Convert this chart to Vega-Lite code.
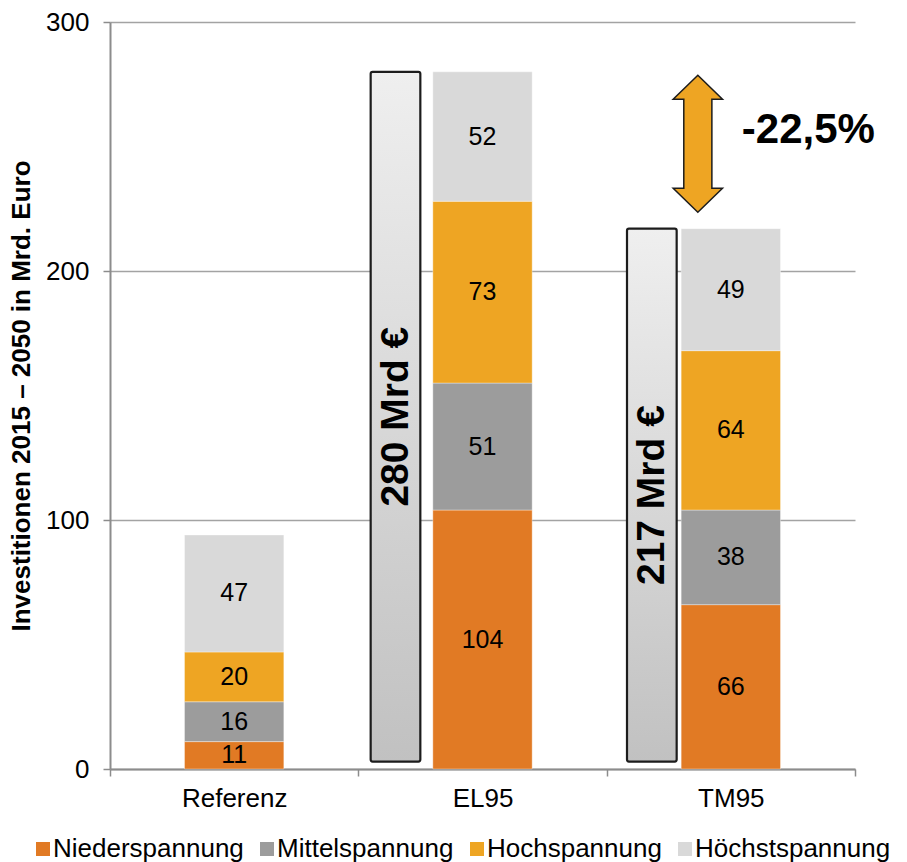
{
  "$schema": "https://vega.github.io/schema/vega-lite/v6.json",
  "width": 745,
  "height": 747,
  "autosize": "none",
  "padding": {"left": 110, "top": 22, "right": 52, "bottom": 93},
  "config": {
    "view": {"stroke": null},
    "font": "Liberation Sans",
    "axis": {"labelFont": "Liberation Sans", "titleFont": "Liberation Sans", "labelColor": "#000000", "titleColor": "#000000"},
    "legend": {"labelFont": "Liberation Sans", "labelColor": "#000000"}
  },
  "datasets": {
    "segmente": [
      {"szenario": "Referenz", "ebene": "Niederspannung", "wert": 11},
      {"szenario": "Referenz", "ebene": "Mittelspannung", "wert": 16},
      {"szenario": "Referenz", "ebene": "Hochspannung", "wert": 20},
      {"szenario": "Referenz", "ebene": "Höchstspannung", "wert": 47},
      {"szenario": "EL95", "ebene": "Niederspannung", "wert": 104},
      {"szenario": "EL95", "ebene": "Mittelspannung", "wert": 51},
      {"szenario": "EL95", "ebene": "Hochspannung", "wert": 73},
      {"szenario": "EL95", "ebene": "Höchstspannung", "wert": 52},
      {"szenario": "TM95", "ebene": "Niederspannung", "wert": 66},
      {"szenario": "TM95", "ebene": "Mittelspannung", "wert": 38},
      {"szenario": "TM95", "ebene": "Hochspannung", "wert": 64},
      {"szenario": "TM95", "ebene": "Höchstspannung", "wert": 49}
    ],
    "summen": [
      {"szenario": "EL95", "summe": 280, "label": "280 Mrd €"},
      {"szenario": "TM95", "summe": 217, "label": "217 Mrd €"}
    ],
    "differenz": [
      {"szenario": "TM95", "von": 280, "bis": 217, "label": "-22,5%"}
    ]
  },
  "layer": [
    {
      "data": {"name": "segmente"},
      "transform": [
        {"calculate": "indexof(['Niederspannung','Mittelspannung','Hochspannung','Höchstspannung'], datum.ebene)", "as": "rang"},
        {"stack": "wert", "groupby": ["szenario"], "sort": [{"field": "rang", "order": "ascending"}], "as": ["y0", "y1"]},
        {"calculate": "(datum.y0 + datum.y1) / 2", "as": "mitte"}
      ],
      "layer": [
        {
          "mark": {"type": "bar", "width": {"band": 0.4}, "stroke": "#ffffff", "strokeWidth": 0.6, "strokeOpacity": 0.6},
          "encoding": {
            "x": {
              "field": "szenario", "type": "nominal", "sort": ["Referenz", "EL95", "TM95"],
              "scale": {"paddingInner": 0, "paddingOuter": 0},
              "axis": {
                "title": null, "labelAngle": 0, "tickBand": "extent",
                "domainColor": "#8c8c8c", "domainWidth": 2,
                "tickColor": "#8c8c8c", "tickSize": 7, "tickWidth": 1.5,
                "labelFontSize": 26, "labelPadding": 9
              }
            },
            "y": {
              "field": "y0", "type": "quantitative",
              "scale": {"domain": [0, 300], "nice": false},
              "axis": {
                "values": [0, 100, 200, 300],
                "grid": true, "gridColor": "#a3a3a3", "gridWidth": 1.5,
                "domainColor": "#8c8c8c", "domainWidth": 2,
                "tickColor": "#8c8c8c", "tickSize": 7, "tickWidth": 1.5,
                "labelFontSize": 26, "labelPadding": 14,
                "title": "Investitionen 2015 – 2050 in Mrd. Euro",
                "titleFontSize": 26, "titleFontWeight": "bold", "titlePadding": 11
              }
            },
            "y2": {"field": "y1"},
            "color": {
              "field": "ebene", "type": "nominal",
              "scale": {
                "domain": ["Niederspannung", "Mittelspannung", "Hochspannung", "Höchstspannung"],
                "range": ["#e17a24", "#9c9c9c", "#eea523", "#d9d9d9"]
              },
              "legend": {
                "title": null, "orient": "none", "legendX": -80, "legendY": 814,
                "direction": "horizontal", "columns": 4,
                "symbolType": "square", "symbolSize": 196, "symbolStrokeWidth": 0,
                "labelFontSize": 26, "labelOffset": -3, "labelLimit": 0, "columnPadding": 10
              }
            }
          }
        },
        {
          "mark": {"type": "text", "fontSize": 25, "color": "#000000", "baseline": "middle", "align": "center"},
          "encoding": {
            "x": {"field": "szenario", "type": "nominal", "sort": ["Referenz", "EL95", "TM95"]},
            "y": {"field": "mitte", "type": "quantitative"},
            "text": {"field": "wert", "type": "quantitative"}
          }
        }
      ]
    },
    {
      "data": {"name": "summen"},
      "transform": [
        {"calculate": "(datum.summe + 3) / 2", "as": "mitte"}
      ],
      "layer": [
        {
          "mark": {
            "type": "bar", "width": {"band": 0.2},
            "xOffset": {"expr": "datum.szenario === 'EL95' ? -87 : -79"},
            "fill": {
              "gradient": "linear", "x1": 0, "y1": 0, "x2": 0, "y2": 1,
              "stops": [{"offset": 0, "color": "#efefef"}, {"offset": 1, "color": "#c1c1c1"}]
            },
            "stroke": "#1c1c1c", "strokeWidth": 2.2, "cornerRadius": 2
          },
          "encoding": {
            "x": {"field": "szenario", "type": "nominal", "sort": ["Referenz", "EL95", "TM95"]},
            "y": {"field": "summe", "type": "quantitative"},
            "y2": {"datum": 3}
          }
        },
        {
          "mark": {
            "type": "text", "angle": 270, "fontSize": 39, "fontWeight": "bold", "color": "#000000",
            "align": "center", "baseline": "middle",
            "xOffset": {"expr": "datum.szenario === 'EL95' ? -87 : -79"}
          },
          "encoding": {
            "x": {"field": "szenario", "type": "nominal", "sort": ["Referenz", "EL95", "TM95"]},
            "y": {"field": "mitte", "type": "quantitative"},
            "text": {"field": "label"}
          }
        }
      ]
    },
    {
      "data": {"name": "differenz"},
      "transform": [
        {"calculate": "(datum.von + datum.bis) / 2", "as": "mitte"}
      ],
      "layer": [
        {
          "mark": {
            "type": "point", "filled": true, "opacity": 1,
            "shape": "M0,-1 L0.36,-0.65 L0.205,-0.65 L0.205,0.65 L0.36,0.65 L0,1 L-0.36,0.65 L-0.205,0.65 L-0.205,-0.65 L-0.36,-0.65 Z",
            "size": 18769, "fill": "#eea523", "stroke": "#1c1c1c", "strokeWidth": 1.5,
            "xOffset": -33, "yOffset": -6.5
          },
          "encoding": {
            "x": {"field": "szenario", "type": "nominal", "sort": ["Referenz", "EL95", "TM95"]},
            "y": {"field": "mitte", "type": "quantitative"}
          }
        },
        {
          "mark": {
            "type": "text", "fontSize": 42, "fontWeight": "bold", "color": "#000000",
            "align": "left", "baseline": "middle", "xOffset": 11, "yOffset": -20
          },
          "encoding": {
            "x": {"field": "szenario", "type": "nominal", "sort": ["Referenz", "EL95", "TM95"]},
            "y": {"field": "mitte", "type": "quantitative"},
            "text": {"field": "label"}
          }
        }
      ]
    }
  ]
}
